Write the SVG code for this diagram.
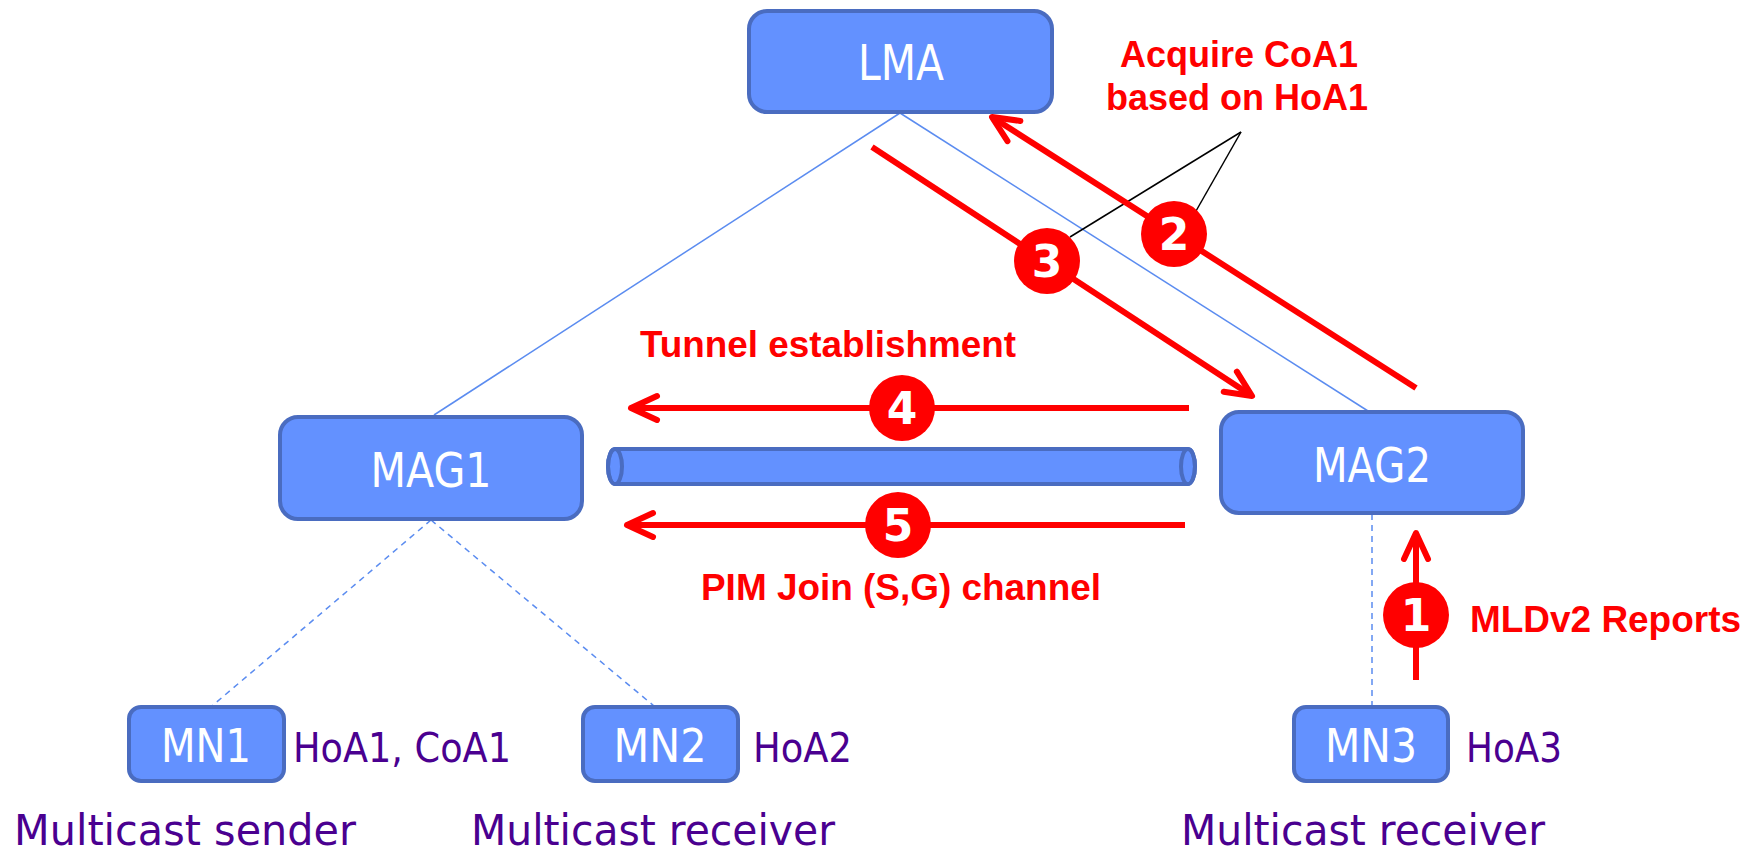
<svg xmlns="http://www.w3.org/2000/svg" width="1760" height="857" viewBox="0 0 1760 857">
<style>
.box{fill:#6391FF;stroke:#4A6CC0;stroke-width:4}
.nt{font-family:"DejaVu Sans",sans-serif;fill:#fff;text-anchor:middle}
.pt{font-family:"DejaVu Sans",sans-serif;fill:#4A0090}
.rt{font-family:"Liberation Sans",Arial,sans-serif;font-weight:bold;fill:#FF0000;font-size:36px}
.link{stroke:#5B8CF0;stroke-width:1.5;fill:none}
.dash{stroke:#5B8CF0;stroke-width:1.5;fill:none;stroke-dasharray:6 5}
.red{stroke:#FF0000;stroke-width:6;fill:none;marker-end:url(#arr)}
.num{fill:#FF0000}
.nn{font-family:"DejaVu Sans",sans-serif;font-weight:bold;fill:#fff;font-size:44px;text-anchor:middle}
</style>
<defs>
<marker id="arr" markerUnits="userSpaceOnUse" viewBox="-30 -18 40 36" refX="0" refY="0" markerWidth="40" markerHeight="36" orient="auto" overflow="visible">
<path d="M-22,-12 L4,0 L-22,12" fill="none" stroke="#FF0000" stroke-width="6" stroke-linecap="round" stroke-linejoin="round"/>
</marker>
</defs>
<g id="connectors">
<line class="link" x1="900" y1="113" x2="434" y2="415"/>
<line class="link" x1="900" y1="113" x2="1368" y2="411"/>
<line class="dash" x1="431" y1="520" x2="212" y2="706"/>
<line class="dash" x1="431" y1="520" x2="654" y2="706"/>
<line class="dash" x1="1372" y1="514" x2="1372" y2="706"/>
<line stroke="#000" stroke-width="1.5" x1="1241" y1="132" x2="1070" y2="237"/>
<line stroke="#000" stroke-width="1.5" x1="1241" y1="132" x2="1196" y2="211"/>
<line class="red" x1="1416" y1="388" x2="995.4" y2="119.2"/>
<line class="red" x1="872" y1="147" x2="1248.7" y2="393.8"/>
<line class="red" x1="1189" y1="408" x2="635" y2="408"/>
<line class="red" x1="1185" y1="525" x2="631" y2="525"/>
<line class="red" x1="1416" y1="680" x2="1416" y2="537"/>
</g>
<g id="tunnel">
<path d="M615,449 H1188 A7,17.5 0 0 1 1188,484 H615 A7,17.5 0 0 1 615,449 Z" class="box"/>
<ellipse cx="615" cy="466.5" rx="7" ry="17.5" fill="none" stroke="#4A6CC0" stroke-width="4"/>
<ellipse cx="1188" cy="466.5" rx="7" ry="17.5" fill="none" stroke="#4A6CC0" stroke-width="4"/>
</g>
<g id="LMA"><rect class="box" x="749" y="11" width="303" height="101" rx="18"/><text class="nt" x="901" y="80" font-size="50" textLength="86" lengthAdjust="spacingAndGlyphs">LMA</text></g>
<g id="MAG1"><rect class="box" x="280" y="417" width="302" height="102" rx="18"/><text class="nt" x="431" y="487" font-size="48" textLength="121" lengthAdjust="spacingAndGlyphs">MAG1</text></g>
<g id="MAG2"><rect class="box" x="1221" y="412" width="302" height="101" rx="18"/><text class="nt" x="1372" y="482" font-size="48" textLength="118" lengthAdjust="spacingAndGlyphs">MAG2</text></g>
<g id="MN1"><rect class="box" x="129" y="707" width="155" height="74" rx="12"/><text class="nt" x="206" y="762" font-size="46" textLength="90" lengthAdjust="spacingAndGlyphs">MN1</text></g>
<g id="MN2"><rect class="box" x="583" y="707" width="155" height="74" rx="12"/><text class="nt" x="660" y="762" font-size="46" textLength="93" lengthAdjust="spacingAndGlyphs">MN2</text></g>
<g id="MN3"><rect class="box" x="1294" y="707" width="154" height="74" rx="12"/><text class="nt" x="1371" y="762" font-size="46" textLength="92" lengthAdjust="spacingAndGlyphs">MN3</text></g>
<g id="labels">
<text class="pt" x="293" y="762" font-size="41" textLength="218" lengthAdjust="spacingAndGlyphs">HoA1, CoA1</text>
<text class="pt" x="753" y="762" font-size="41" textLength="99" lengthAdjust="spacingAndGlyphs">HoA2</text>
<text class="pt" x="1466" y="762" font-size="41" textLength="96" lengthAdjust="spacingAndGlyphs">HoA3</text>
<text class="pt" x="14" y="845" font-size="42" textLength="342" lengthAdjust="spacingAndGlyphs">Multicast sender</text>
<text class="pt" x="471" y="845" font-size="42" textLength="364" lengthAdjust="spacingAndGlyphs">Multicast receiver</text>
<text class="pt" x="1181" y="845" font-size="42" textLength="364" lengthAdjust="spacingAndGlyphs">Multicast receiver</text>
<text class="rt" x="1239" y="67" text-anchor="middle">Acquire CoA1</text>
<text class="rt" x="1237" y="110" text-anchor="middle">based on HoA1</text>
<text class="rt" x="640" y="357" textLength="376" lengthAdjust="spacingAndGlyphs">Tunnel establishment</text>
<text class="rt" x="701" y="600" textLength="400" lengthAdjust="spacingAndGlyphs">PIM Join (S,G) channel</text>
<text class="rt" x="1470" y="632" textLength="271" lengthAdjust="spacingAndGlyphs">MLDv2 Reports</text>
</g>
<g id="step1"><circle class="num" cx="1416" cy="615" r="33"/><text class="nn" x="1416" y="631">1</text></g>
<g id="step2"><circle class="num" cx="1174" cy="234" r="33"/><text class="nn" x="1174" y="250">2</text></g>
<g id="step3"><circle class="num" cx="1047" cy="261" r="33"/><text class="nn" x="1047" y="277">3</text></g>
<g id="step4"><circle class="num" cx="902" cy="408" r="33"/><text class="nn" x="902" y="424">4</text></g>
<g id="step5"><circle class="num" cx="898" cy="525" r="33"/><text class="nn" x="898" y="541">5</text></g>
</svg>
